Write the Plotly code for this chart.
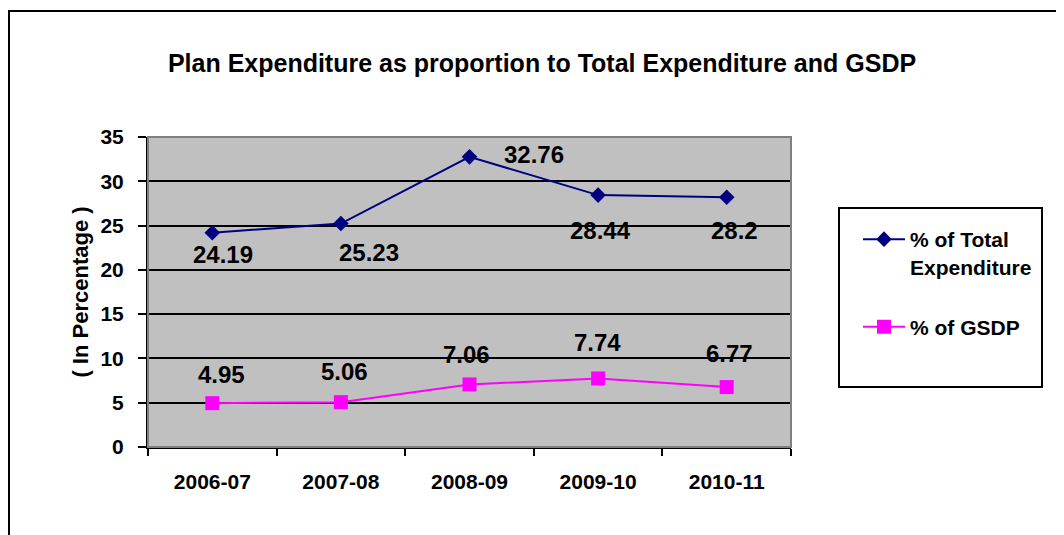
import plotly.graph_objects as go

years = ["2006-07", "2007-08", "2008-09", "2009-10", "2010-11"]
pct_total_exp = [24.19, 25.23, 32.76, 28.44, 28.2]
pct_gsdp = [4.95, 5.06, 7.06, 7.74, 6.77]
y_ticks = [0, 5, 10, 15, 20, 25, 30, 35]

# pixel geometry of the original chart (page has an 8px body margin)
OFF = 8
W, H = 1064 - OFF, 535 - OFF
L, R, T, B = 148 - OFF, 791 - OFF, 137 - OFF, 447 - OFF


def px_x(p):
    return (p - OFF - L) / (R - L)


def px_y(p):
    return (B - (p - OFF)) / (B - T)


FONT = "Arial, Liberation Sans, sans-serif"
BOLD = dict(family=FONT, color="black", weight="bold")

fig = go.Figure()

fig.add_trace(go.Scatter(
    x=years,
    y=pct_total_exp,
    name="% of Total<br>Expenditure",
    mode="lines+markers",
    line=dict(color="#000080", width=2),
    marker=dict(symbol="diamond", size=12, color="#000080"),
    legendgroup="a",
))

fig.add_trace(go.Scatter(
    x=years,
    y=pct_gsdp,
    name="% of GSDP",
    mode="lines+markers",
    line=dict(color="#FF00FF", width=2),
    marker=dict(symbol="square", size=14, color="#FF00FF"),
    legendgroup="b",
))

# data labels, offsets as in the original
shift_total = [(11, -22), (28, -29), (64, 2), (2, -35), (8, -33)]
shift_gsdp = [(9, 29), (4, 31), (-3, 30), (-1, 36), (3, 34)]

for serie, shifts in ((pct_total_exp, shift_total), (pct_gsdp, shift_gsdp)):
    for xv, yv, (dx, dy) in zip(years, serie, shifts):
        fig.add_annotation(
            x=xv, y=yv, text=f"{yv:g}",
            showarrow=False, xshift=dx, yshift=dy,
            font=dict(BOLD, size=24),
        )

# outer chart border and legend box
fig.add_shape(type="rect", xref="paper", yref="paper",
              x0=px_x(OFF + 1), x1=px_x(1058), y0=px_y(545), y1=px_y(11),
              line=dict(color="black", width=2), layer="below")
fig.add_shape(type="rect", xref="paper", yref="paper",
              x0=px_x(839), x1=px_x(1042), y0=px_y(387), y1=px_y(208),
              line=dict(color="black", width=2))
# plot area frame (grey top/right)
fig.add_shape(type="rect", xref="paper", yref="paper",
              x0=0, x1=1, y0=0, y1=1,
              line=dict(color="#808080", width=2), layer="above")

fig.update_layout(
    width=W,
    height=H,
    margin=dict(l=L, r=W - R, t=T, b=H - B, pad=0),
    paper_bgcolor="white",
    plot_bgcolor="#C0C0C0",
    font=dict(family=FONT, color="black"),
    title=dict(
        text="Plan Expenditure as proportion to Total Expenditure and GSDP",
        x=(542 - OFF) / W, xanchor="center",
        y=1 - (63 - OFF) / H, yanchor="middle",
        font=dict(BOLD, size=25),
    ),
    showlegend=True,
    legend=dict(
        x=px_x(858), y=px_y(219), xanchor="left", yanchor="top",
        bgcolor="rgba(0,0,0,0)", borderwidth=0,
        font=dict(BOLD, size=21),
        itemwidth=42,
        traceorder="grouped", tracegroupgap=30, valign="top",
    ),
)

fig.update_xaxes(
    type="category",
    range=[-0.5, 4.5],
    showgrid=False,
    showline=True, linecolor="black", linewidth=2,
    ticks="outside", tickson="boundaries", ticklen=7, tickwidth=2, tickcolor="black",
    tickfont=dict(BOLD, size=21),
    ticklabelstandoff=15,
    zeroline=False,
)

fig.update_yaxes(
    range=[0, 35],
    tickvals=y_ticks,
    showgrid=True, gridcolor="black", gridwidth=2,
    showline=True, linecolor="black", linewidth=2,
    ticks="outside", ticklen=8, tickwidth=2, tickcolor="black",
    tickfont=dict(BOLD, size=21),
    ticklabelstandoff=10,
    zeroline=False,
    title=dict(text="( In Percentage )", font=dict(BOLD, size=22), standoff=6),
)

fig.write_html("out.html")
